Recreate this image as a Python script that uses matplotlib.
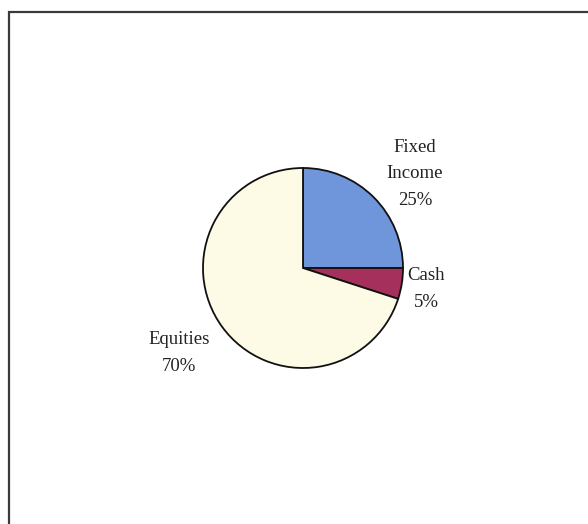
import matplotlib.pyplot as plt
from matplotlib.patches import Rectangle

labels = ["Fixed\nIncome\n25%", "Cash\n5%", "Equities\n70%"]
shares = [25, 5, 70]
colors = ["#6f95da", "#a6305c", "#fdfbe6"]

# label anchor points, in pie radius units
label_xy = [(1.12, 0.94), (1.23, -0.21), (-1.24, -0.85)]

fig = plt.figure(figsize=(5.88, 5.24), dpi=100)
fig.patch.set_facecolor("white")

# frame around the chart, cut off at right and bottom like the scan
fig.patches.append(Rectangle((9 / 588, -0.02), 1.0, 1 - 12 / 524 + 0.02,
                             transform=fig.transFigure, fill=False,
                             edgecolor="#3a3a3a", linewidth=1.6))

ax = fig.add_axes([(303 - 150) / 588, (256 - 150) / 524, 300 / 588, 300 / 524])
ax.pie(shares, colors=colors, startangle=90, counterclock=False, radius=1.0,
       wedgeprops=dict(edgecolor="#111111", linewidth=1.3))
ax.set_xlim(-1.5, 1.5)
ax.set_ylim(-1.5, 1.5)
ax.set_aspect("equal")
ax.axis("off")

for txt, (x, y) in zip(labels, label_xy):
    ax.text(x, y, txt, ha="center", va="center", fontsize=13.5,
            family="Liberation Serif", color="#222222", linespacing=1.75)

fig.savefig("out.png", dpi=100)
